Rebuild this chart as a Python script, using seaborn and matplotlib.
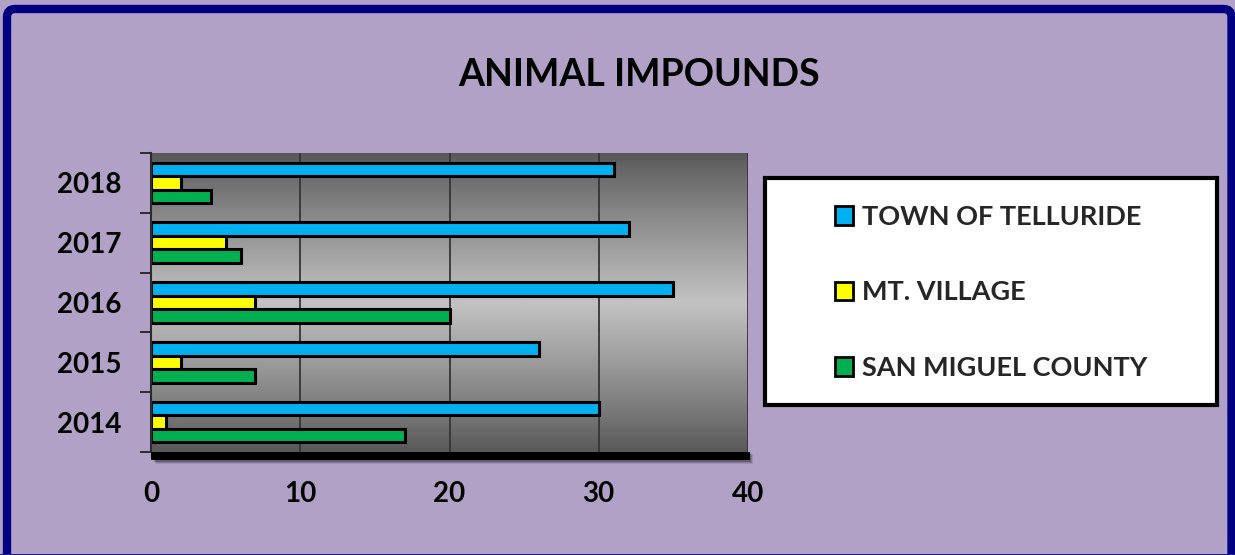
import numpy as np
import pandas as pd
import matplotlib
matplotlib.use("Agg")
import matplotlib.pyplot as plt
import seaborn as sns
from matplotlib.patches import Rectangle, FancyBboxPatch
from matplotlib.colors import LinearSegmentedColormap
from matplotlib.transforms import IdentityTransform

# Yearly animal impound counts by jurisdiction
years = ["2018", "2017", "2016", "2015", "2014"]
series = ["TOWN OF TELLURIDE", "MT. VILLAGE", "SAN MIGUEL COUNTY"]
telluride = [31, 32, 35, 26, 30]
mt_village = [2, 5, 7, 2, 1]
san_miguel = [4, 6, 20, 7, 17]
x_ticks = [0, 10, 20, 30, 40]
colors = ["#00B0F0", "#FFFF00", "#00B050"]

df = pd.DataFrame({
    "year": years * 3,
    "source": np.repeat(series, len(years)),
    "count": telluride + mt_village + san_miguel,
})

sns.set_theme(style="white")
plt.rcParams["font.family"] = ["Lato", "DejaVu Sans"]
plt.rcParams["font.weight"] = "bold"

W, H = 1235, 555
fig = plt.figure(figsize=(W / 100, H / 100), dpi=100)
fig.patch.set_facecolor("#B1A1C7")

# plot area in pixel terms
L, R, T, B = 151, 748, 153, 452
ax = fig.add_axes([L / W, 1 - B / H, (R - L) / W, (B - T) / H])

sns.barplot(data=df, y="year", x="count", hue="source", order=years,
            hue_order=series, palette=colors, orient="h", width=0.68,
            edgecolor="black", linewidth=2.2, saturation=1, ax=ax)

# vertical gray gradient: dark at top and bottom, light in the middle
t = np.linspace(0, 1, 300)
prof = 1 - np.abs(t - 0.5) * 2
grad = prof ** 0.9
cmap = LinearSegmentedColormap.from_list("g", ["#585858", "#c2c2c2"])
ax.imshow(grad[:, None], extent=(0, 40, 4.5, -0.5), aspect="auto",
          cmap=cmap, zorder=0, interpolation="bilinear")
ax.set_xlim(0, 40)
ax.set_ylim(4.5, -0.5)

ax.set_axisbelow(True)
ax.xaxis.grid(True, color="#353535", linewidth=1.3)
ax.yaxis.grid(False)
ax.set_xticks(x_ticks)
ax.set_xticklabels([str(v) for v in x_ticks])
ax.set_xlabel("")
ax.set_ylabel("")

for s in ["top", "right", "bottom"]:
    ax.spines[s].set_visible(False)
ax.spines["left"].set_color("#2a2a2a")
ax.spines["left"].set_linewidth(1.5)

ax.tick_params(axis="y", which="major", length=0, pad=21, labelsize=20,
               labelcolor="black")
ax.tick_params(axis="x", which="major", length=0, pad=21, labelsize=20,
               labelcolor="black")
ax.set_yticks(np.arange(-0.5, 5.0, 1.0), minor=True)
ax.tick_params(axis="y", which="minor", length=8, width=1.3, color="#222222",
               left=True, direction="out")
for lab in ax.get_xticklabels() + ax.get_yticklabels():
    lab.set_fontweight("bold")

# dark floor strip under the plot area, with a soft shadow
for i, a in enumerate([0.10, 0.15, 0.25]):
    off = 3 - i
    fig.patches.append(Rectangle(((L + 2 + off) / W, 1 - (461 + off) / H),
                                 (R - L) / W, 9 / H, transform=fig.transFigure,
                                 facecolor="black", alpha=a, edgecolor="none",
                                 zorder=0))
fig.patches.append(Rectangle((L / W, 1 - 460 / H), (R - L + 2) / W, 8 / H,
                             transform=fig.transFigure, facecolor="black",
                             edgecolor="none", zorder=1))

# legend in a white box with a heavy outline
handles, labels = ax.get_legend_handles_labels()
ax.get_legend().remove()
fig.patches.append(Rectangle((765 / W, 1 - 405 / H), 452 / W, 227 / H,
                             transform=fig.transFigure, facecolor="white",
                             edgecolor="black", linewidth=3, zorder=1))
leg = fig.legend(handles, labels, loc="upper left",
                 bbox_to_anchor=(835 / W, 1 - 205 / H), frameon=False,
                 handlelength=0.68, handleheight=0.68, borderaxespad=0,
                 handletextpad=0.3, labelspacing=1.9, borderpad=0,
                 prop={"weight": "bold", "size": 19.5})
for h in leg.legend_handles:
    h.set_edgecolor("black")
    h.set_linewidth(2)

fig.text(639 / W, 1 - 75 / H, "ANIMAL IMPOUNDS", ha="center", va="center",
         fontsize=27, fontweight="bold", color="black")

# navy outer frame: rounded top corners, running off the bottom edge
fig.patches.append(FancyBboxPatch((7, -20), 1224.5, 566,
                                  boxstyle="round,pad=0,rounding_size=8",
                                  transform=IdentityTransform(), fill=False,
                                  edgecolor="#000080", linewidth=6, zorder=5))
fig.patches.append(Rectangle((0, 0), W, 1.5, transform=IdentityTransform(),
                             facecolor="#1a1a8a", edgecolor="none", zorder=5))

fig.savefig("out.png", dpi=100, facecolor=fig.get_facecolor())
